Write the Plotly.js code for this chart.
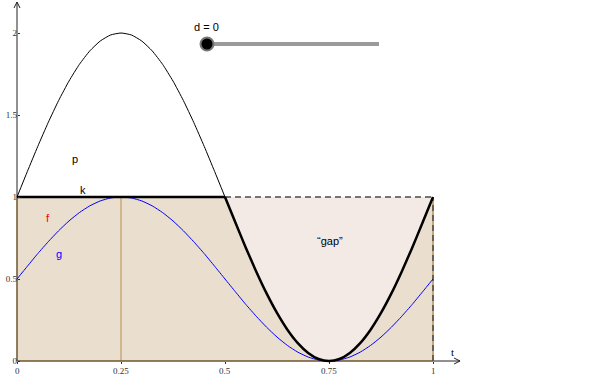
<!DOCTYPE html>
<html><head><meta charset="utf-8">
<script src="https://cdn.plot.ly/plotly-3.0.1.min.js"></script>
<style>html,body{margin:0;padding:0;background:#fff}#c{width:600px;height:375px}</style>
</head><body><div id="c"></div>
<script>
// parameter t sampled every 0.025
const tAll = [0,0.025,0.05,0.075,0.1,0.125,0.15,0.175,0.2,0.225,0.25,0.275,0.3,0.325,0.35,0.375,0.4,0.425,0.45,0.475,0.5,0.525,0.55,0.575,0.6,0.625,0.65,0.675,0.7,0.725,0.75,0.775,0.8,0.825,0.85,0.875,0.9,0.925,0.95,0.975,1];
const gVals = [0.5,0.578,0.655,0.727,0.794,0.854,0.905,0.946,0.976,0.994,1,0.994,0.976,0.946,0.905,0.854,0.794,0.727,0.655,0.578,0.5,0.422,0.345,0.273,0.206,0.146,0.095,0.054,0.024,0.006,0,0.006,0.024,0.054,0.095,0.146,0.206,0.273,0.345,0.422,0.5];
const pT = [0,0.025,0.05,0.075,0.1,0.125,0.15,0.175,0.2,0.225,0.25,0.275,0.3,0.325,0.35,0.375,0.4,0.425,0.45,0.475,0.5];
const pVals = [1,1.156,1.309,1.454,1.588,1.707,1.809,1.891,1.951,1.988,2,1.988,1.951,1.891,1.809,1.707,1.588,1.454,1.309,1.156,1];
const kFlatT = [0, 0.5];
const kFlatVals = [1, 1];
const kCurveT = [0.5,0.525,0.55,0.575,0.6,0.625,0.65,0.675,0.7,0.725,0.75,0.775,0.8,0.825,0.85,0.875,0.9,0.925,0.95,0.975,1];
const kCurveVals = [1,0.844,0.691,0.546,0.412,0.293,0.191,0.109,0.049,0.012,0,0.012,0.049,0.109,0.191,0.293,0.412,0.546,0.691,0.844,1];
const kT = kFlatT.concat(kCurveT.slice(1));
const kVals = kFlatVals.concat(kCurveVals.slice(1));
const topLineT = [0.5, 1];
const topLineVals = [1, 1];
const dValue = 0.25;      // vertical marker
const xTicks = [0,0.25,0.5,0.75,1];
const xTickText = ['0','0.25','0.5','0.75','1'];
const yTicks = [0,0.5,1,1.5,2];
const yTickText = ['0','0.5','1','1.5','2'];
const sliderLabel = 'd = 0';

const TAN = 'rgb(234,222,207)';
const GAP = 'rgb(244,234,229)';
const BROWN = 'rgb(110,85,45)';
const LTAN = 'rgb(200,168,120)';

const traces = [
  {x:kT, y:kVals, type:'scatter', mode:'lines', line:{width:0}, fill:'tozeroy', fillcolor:TAN, hoverinfo:'skip'},
  {x:kCurveT, y:kCurveVals, type:'scatter', mode:'lines', line:{width:0}, fill:'toself', fillcolor:GAP, hoverinfo:'skip'},
  {x:[dValue,dValue], y:[0,1], type:'scatter', mode:'lines', line:{color:LTAN, width:1.5}},
  {x:[1,1], y:[0,1], type:'scatter', mode:'lines', line:{color:LTAN, width:2}},
  {x:[1,1], y:[0,1], type:'scatter', mode:'lines', line:{color:'#4a4a4a', width:1.5, dash:'6px,4px'}},
  {x:topLineT, y:topLineVals, type:'scatter', mode:'lines', line:{color:'#4a4a4a', width:1.5, dash:'6px,4px'}},
  {x:[0,0], y:[0,1], type:'scatter', mode:'lines', line:{color:BROWN, width:1.5}},
  {x:[0,1], y:[0,0], type:'scatter', mode:'lines', line:{color:BROWN, width:1.5}},
  {x:tAll, y:gVals, type:'scatter', mode:'lines', line:{color:'#0000ff', width:1, shape:'spline', smoothing:0.5}},
  {x:pT, y:pVals, type:'scatter', mode:'lines', line:{color:'#000', width:1, shape:'spline', smoothing:0.5}},
  {x:kFlatT, y:kFlatVals, type:'scatter', mode:'lines', line:{color:'#000', width:2.5}},
  {x:kCurveT, y:kCurveVals, type:'scatter', mode:'lines', line:{color:'#000', width:2.5, shape:'spline', smoothing:0.5}}
];

const W = 600, H = 375;
const px = v => v / W, py = v => 1 - v / H;

const shapes = [
  {type:'line', xref:'x', yref:'y', x0:0, x1:0, y0:1, y1:2.189, line:{color:'#222', width:1}, layer:'below'},
  {type:'line', xref:'x', yref:'y', x0:1, x1:1.065, y0:0, y1:0, line:{color:'#222', width:1}, layer:'below'},
  {type:'path', xref:'x', yref:'y', xsizemode:'pixel', ysizemode:'pixel', xanchor:0, yanchor:2.189, path:'M-3,-6 L0,0 L3,-6', line:{color:'#222', width:1}},
  {type:'path', xref:'x', yref:'y', xsizemode:'pixel', ysizemode:'pixel', xanchor:1.065, yanchor:0, path:'M-6,3 L0,0 L-6,-3', line:{color:'#222', width:1}},
  {type:'line', xref:'paper', yref:'paper', x0:px(207), x1:px(379), y0:py(44), y1:py(44), line:{color:'#9a9a9a', width:4}},
  {type:'circle', xref:'paper', yref:'paper', x0:px(200.5), x1:px(213.5), y0:py(37.5), y1:py(50.5), fillcolor:'#000', line:{color:'#777', width:2}}
];

const sans = 'Liberation Sans, Arial, sans-serif';
const serif = 'Liberation Serif, Times New Roman, serif';
const mk = (text, x, y, color, family, ref) => ({text:text, x:x, y:y, xref:ref||'x', yref:ref||'y', showarrow:false,
  xanchor:'center', yanchor:'middle', font:{family:family||sans, size:11, color:color||'#000'}});
const annotations = [
  mk('p', 0.139, 1.232),
  mk('k', 0.159, 1.043),
  mk('f', 0.075, 0.872, '#ff0000'),
  mk('g', 0.101, 0.652, '#0000ff'),
  mk('\u201cgap\u201d', 0.752, 0.732),
  mk('t', 1.046, 0.055, '#000', serif),
  mk(sliderLabel, px(207), py(27), '#000', sans, 'paper')
];
xTicks.forEach((v, i) => annotations.push({text:xTickText[i], x:v, y:0, xref:'x', yref:'y', showarrow:false,
  xanchor:'center', yanchor:'top', yshift:-3, font:{family:serif, size:9, color:'#333'}}));

const layout = {
  width:W, height:H, margin:{l:0,r:0,t:0,b:0}, showlegend:false,
  paper_bgcolor:'#fff', plot_bgcolor:'#fff',
  xaxis:{range:[-17/416, 583/416], anchor:'free', position:14/375, showgrid:false, zeroline:false, showline:false,
         tickmode:'array', tickvals:xTicks, ticks:'outside', ticklen:2, tickcolor:'#333', showticklabels:false},
  yaxis:{range:[-14/164, 361/164], anchor:'free', position:17/600, showgrid:false, zeroline:false, showline:false,
         tickmode:'array', tickvals:yTicks, ticktext:yTickText, ticks:'inside', ticklen:2, tickcolor:'#333',
         tickfont:{family:serif, size:9, color:'#333'}},
  shapes:shapes, annotations:annotations
};
Plotly.newPlot('c', traces, layout, {displayModeBar:false, staticPlot:true});
</script></body></html>
